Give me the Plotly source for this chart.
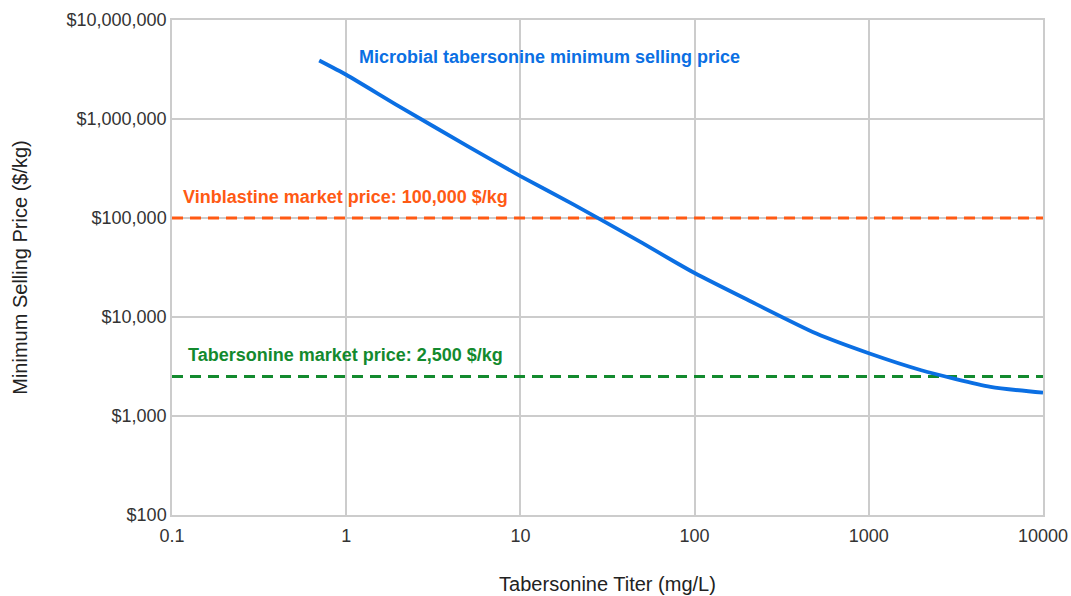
import plotly.graph_objects as go

# Tabersonine titer (mg/L) and the resulting microbial minimum selling price ($/kg)
titer_mg_l = [0.7, 1, 2, 5, 10, 20, 50, 75, 100, 200, 500, 1000, 2000, 5000, 10000]
min_selling_price = [3900000, 2800000, 1350000, 530000, 265000, 138000, 56000, 37000,
                     27800, 15000, 6800, 4300, 2900, 1970, 1720]

# Reference market prices ($/kg)
vinblastine_price = 100000
tabersonine_price = 2500

x_tick_vals = [0.1, 1, 10, 100, 1000, 10000]
x_tick_text = ["0.1", "1", "10", "100", "1000", "10000"]
y_tick_vals = [100, 1000, 10000, 100000, 1000000, 10000000]
y_tick_text = ["$100", "$1,000", "$10,000", "$100,000", "$1,000,000", "$10,000,000"]

BLUE = "#0B6FE3"
ORANGE = "#FF5A14"
GREEN = "#138A2E"
FONT = "Liberation Sans, Arial, sans-serif"

fig = go.Figure()

fig.add_trace(go.Scatter(
    x=[x_tick_vals[0], x_tick_vals[-1]], y=[vinblastine_price] * 2,
    mode="lines", line=dict(color=ORANGE, width=3, dash="11px,7px"), showlegend=False,
))
fig.add_trace(go.Scatter(
    x=[x_tick_vals[0], x_tick_vals[-1]], y=[tabersonine_price] * 2,
    mode="lines", line=dict(color=GREEN, width=3, dash="11px,7px"), showlegend=False,
))
fig.add_trace(go.Scatter(
    x=titer_mg_l, y=min_selling_price, mode="lines",
    line=dict(color=BLUE, width=3.8, shape="spline", smoothing=0.6), showlegend=False,
))

fig.add_annotation(xref="paper", yref="paper", x=(357 - 172) / 871, y=(515 - 57) / 495,
                   text="<b>Microbial tabersonine minimum selling price</b>",
                   showarrow=False, xanchor="left", yanchor="middle",
                   font=dict(color=BLUE, size=18, family=FONT))
fig.add_annotation(xref="paper", yref="paper", x=(181 - 172) / 871, y=(515 - 197) / 495,
                   text="<b>Vinblastine market price: 100,000 $/kg</b>",
                   showarrow=False, xanchor="left", yanchor="middle",
                   font=dict(color=ORANGE, size=18, family=FONT))
fig.add_annotation(xref="paper", yref="paper", x=(186 - 172) / 871, y=(515 - 355) / 495,
                   text="<b>Tabersonine market price: 2,500 $/kg</b>",
                   showarrow=False, xanchor="left", yanchor="middle",
                   font=dict(color=GREEN, size=18, family=FONT))

fig.update_xaxes(
    type="log", range=[-1, 4], tickvals=x_tick_vals, ticktext=x_tick_text,
    showgrid=True, gridcolor="#CCCCCC", gridwidth=1.5,
    showline=True, linecolor="#CCCCCC", linewidth=1.5, mirror=True,
    ticks="", zeroline=False, ticklabelstandoff=4,
    tickfont=dict(size=18, color="#333333", family=FONT),
    title=dict(text="Tabersonine Titer (mg/L)", standoff=32,
               font=dict(size=20, color="#222222", family=FONT)),
)
fig.update_yaxes(
    type="log", range=[2, 7], tickvals=y_tick_vals, ticktext=y_tick_text,
    showgrid=True, gridcolor="#CCCCCC", gridwidth=1.5,
    showline=True, linecolor="#CCCCCC", linewidth=1.5, mirror=True,
    ticks="", zeroline=False,
    tickfont=dict(size=18, color="#333333", family=FONT),
    title=dict(text="Minimum Selling Price ($/kg)", standoff=34,
               font=dict(size=20, color="#222222", family=FONT)),
)

fig.update_layout(
    width=1071, height=596,
    margin=dict(l=172, r=28, t=20, b=81, autoexpand=False),
    paper_bgcolor="white", plot_bgcolor="white",
    font=dict(family=FONT),
)

fig.write_html("out.html")
